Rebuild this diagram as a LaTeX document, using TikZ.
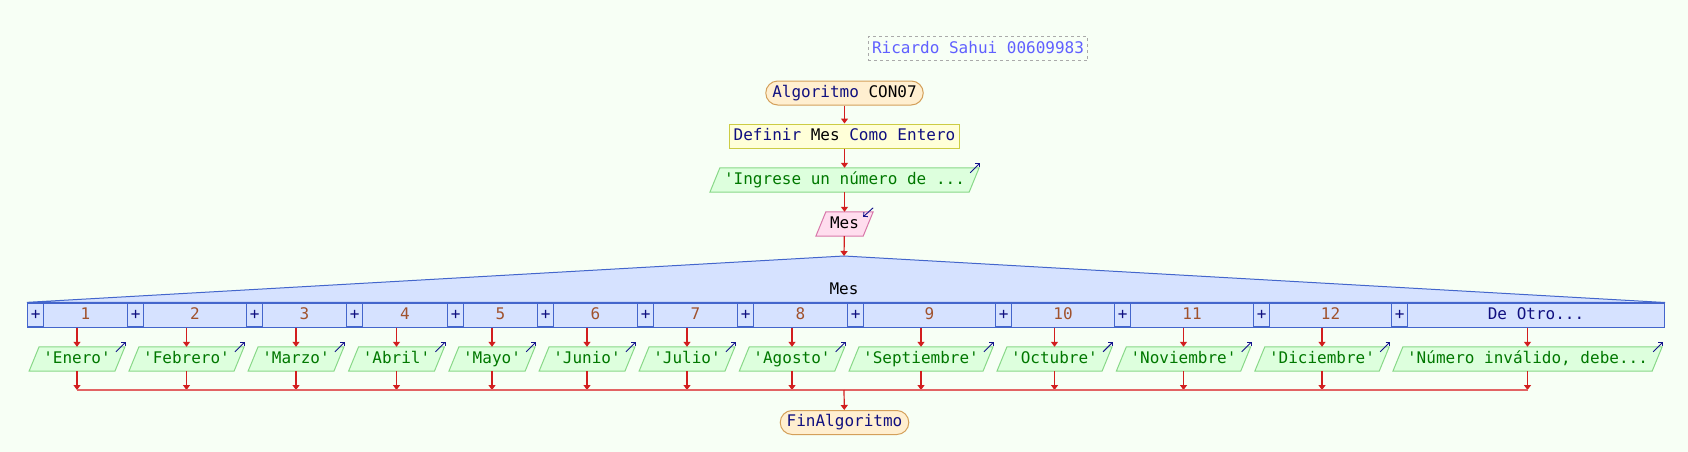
\documentclass[tikz,border=0pt]{standalone}
\usepackage{fontspec}
\setmonofont{DejaVu Sans Mono}
\usetikzlibrary{arrows.meta,backgrounds}
\definecolor{bgc}{RGB}{247,255,245}
\definecolor{kw}{RGB}{16,16,128}
\definecolor{numc}{RGB}{160,82,45}
\definecolor{strc}{RGB}{0,120,0}
\definecolor{authc}{RGB}{96,96,255}
\definecolor{authd}{RGB}{170,170,170}
\definecolor{termf}{RGB}{255,239,208}
\definecolor{termd}{RGB}{212,160,90}
\definecolor{deff}{RGB}{255,255,216}
\definecolor{defd}{RGB}{204,204,68}
\definecolor{outf}{RGB}{221,255,221}
\definecolor{outd}{RGB}{136,216,136}
\definecolor{inf}{RGB}{255,221,238}
\definecolor{ind}{RGB}{216,120,170}
\definecolor{swf}{RGB}{214,226,255}
\definecolor{swd}{RGB}{68,102,204}
\definecolor{flowc}{RGB}{210,30,30}
\definecolor{mergec}{RGB}{226,100,100}
\definecolor{iconc}{RGB}{20,20,140}
\newcommand\kwd[1]{\textcolor{kw}{#1}}
\begin{document}
\begin{tikzpicture}[x=1pt,y=-1pt,
  every node/.style={font=\ttfamily\fontsize{16}{18}\selectfont, text height=12pt, text depth=3.5pt, inner ysep=0pt, minimum height=24pt},
  term/.style={draw=termd, fill=termf, line width=1pt, rounded corners=12pt, inner xsep=6.5pt, text=black},
  defbox/.style={draw=defd, fill=deff, line width=1pt, inner xsep=4pt, text=black},
  author/.style={draw=authd, dash pattern=on 3pt off 3pt, line width=1pt, inner xsep=4pt, text=authc},
  iobox/.style={inner xsep=9pt},
  outshape/.style={draw=outd, fill=outf, line width=1pt},
  inshape/.style={draw=ind, fill=inf, line width=1pt},
  swshape/.style={draw=swd, fill=swf, line width=1pt},
  plusbox/.style={draw=swd, fill=swf, line width=1.3pt, inner xsep=0pt, text=kw},
  cellbox/.style={draw=swd, fill=swf, line width=1pt, inner xsep=0pt, text=numc},
  flow/.style={draw=flowc, line width=1.2pt, -{Triangle[width=7pt,length=5pt]}},
  mergeline/.style={draw=mergec, line width=1.6pt},
  icon/.style={draw=iconc, line width=0.9pt, -{Straight Barb[length=3pt,width=6pt]}},
]
\useasboundingbox (0,0) rectangle (1688,452);

% header
\node[author] (auth) at (978,49) {Ricardo Sahui 00609983};
\node[term] (ini) at (844.5,93) {\kwd{Algoritmo} CON07};
\node[defbox] (def) at (844.5,136) {\kwd{Definir} Mes \kwd{Como Entero}};
\node[iobox, text=strc] (in1) at (844.5,180) {'Ingrese un número de ...};
\node[iobox, text=black] (in2) at (844.5,224) {Mes};
\coordinate (apex) at (844,256);

% switch row
\foreach \i/\a/\b/\c/\t in {1/27/43/127/1, 2/127/143/246/2, 3/246/262/346/3, 4/346/362/447/4,
  5/447/463/537/5, 6/537/553/637/6, 7/637/653/737/7, 8/737/753/847/8, 9/847/863/995/9,
  10/995/1011/1114/10, 11/1114/1130/1253/11, 12/1253/1269/1391/12, 13/1391/1407/1664/{\kwd{De Otro...}}}{
  \pgfmathsetmacro\wa{\b-\a}
  \pgfmathsetmacro\wb{\c-\b}
  \node[plusbox, minimum width=\wa pt, anchor=west] (p\i) at (\a,315) {+};
  \node[cellbox, minimum width=\wb pt, anchor=west] (c\i) at (\b,315) {\t};
}
\node[text=black] (swl) at (844,290) {Mes};

% outputs
\coordinate (mline) at (0,390);
\foreach \i/\x/\t in {1/77/'Enero', 2/186.5/'Febrero', 3/296/'Marzo', 4/396.5/'Abril',
  5/492/'Mayo', 6/587/'Junio', 7/687/'Julio', 8/792/'Agosto', 9/921/'Septiembre',
  10/1054.5/'Octubre', 11/1183.5/'Noviembre', 12/1322/'Diciembre', 13/1527.5/{'Número inválido, debe...}}{
  \node[iobox, text=strc] (o\i) at (\x,359) {\t};
  \coordinate (m\i) at (o\i.south |- mline);
  \draw[flow] (c\i.south -| o\i.north) -- (o\i);
  \draw[flow] (o\i) -- (m\i);
  \draw[icon] ([xshift=-4pt,yshift=-5pt]o\i.north east) -- ([xshift=6pt,yshift=5pt]o\i.north east);
}

\node[term] (fin) at (844.5,422.5) {\kwd{FinAlgoritmo}};

% connectors
\draw[flow] (ini) -- (def);
\draw[flow] (def) -- (in1);
\draw[flow] (in1) -- (in2);
\draw[flow] (in2) -- (apex);
\draw[mergeline] (m1) -- (m13);
\coordinate (mc) at (844,390);
\draw[flow] (mc) -- (fin);

% icons on input/output
\draw[icon] ([xshift=-4pt,yshift=-5pt]in1.north east) -- ([xshift=6pt,yshift=5pt]in1.north east);
\draw[icon] ([xshift=5pt,yshift=4pt]in2.north east) -- ([xshift=-5pt,yshift=-5pt]in2.north east);

% background shapes
\begin{scope}[on background layer]
  \fill[bgc] (0,0) rectangle (1688,452);
  \path[swshape] (p1.north west) -- (apex) -- (c13.north east) -- cycle;
  \foreach \nm in {in1,o1,o2,o3,o4,o5,o6,o7,o8,o9,o10,o11,o12,o13}{
    \path[outshape] ([xshift=-5pt]\nm.south west) -- ([xshift=-5pt]\nm.south east) -- ([xshift=5pt]\nm.north east) -- ([xshift=5pt]\nm.north west) -- cycle;
  }
  \path[inshape] ([xshift=-5pt]in2.south west) -- ([xshift=-5pt]in2.south east) -- ([xshift=5pt]in2.north east) -- ([xshift=5pt]in2.north west) -- cycle;
\end{scope}
\end{tikzpicture}
\end{document}
